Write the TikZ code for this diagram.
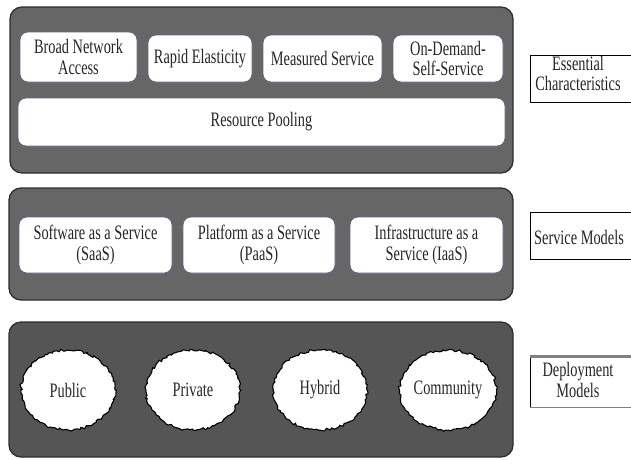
\documentclass[tikz,border=0pt]{standalone}
\usepackage{fontspec}
\setmainfont{Liberation Serif}[FakeStretch=0.70]
\usetikzlibrary{shapes.geometric,decorations.pathmorphing}
\definecolor{panelgray}{HTML}{666666}
\definecolor{deepgray}{HTML}{555555}
\definecolor{edgegray}{HTML}{2E2E2E}
\definecolor{boxedge}{HTML}{5A6788}
\definecolor{inkgray}{HTML}{262626}
\begin{document}
\begin{tikzpicture}[x=1pt,y=-1pt,
  txt/.style={font=\fontsize{20.5}{20.5}\selectfont, text=inkgray, align=center},
  panel/.style={draw=edgegray, line width=1.3pt, rounded corners=12pt, inner sep=0pt},
  itembox/.style={txt, draw=boxedge, fill=white, line width=0.8pt, rounded corners=8pt, inner sep=0pt},
  cloudy/.style={txt, ellipse, draw=black, fill=white, line width=1.1pt, inner sep=0pt,
    minimum width=94pt, minimum height=80pt,
    decorate, decoration={random steps, segment length=2.4pt, amplitude=1.3pt}},
  tag/.style={txt, draw=black, fill=white, line width=0.7pt, inner sep=0pt, minimum width=104pt}
]
\useasboundingbox (0,0) rectangle (631,459);

% three layer panels
\node[panel, fill=panelgray, minimum width=503pt, minimum height=166pt] (essential) at (261.5,90) {};
\node[panel, fill=panelgray, minimum width=504pt, minimum height=112pt] (service) at (261,244) {};
\node[panel, fill=deepgray, minimum width=504pt, minimum height=135pt] (deploy) at (261,389.5) {};

% essential characteristics
\node[itembox, minimum width=117pt, minimum height=50pt] (bna) at (78.5,57) {Broad Network\\Access};
\node[itembox, minimum width=104pt, minimum height=47pt] (rapid) at (200,58.5) {Rapid Elasticity};
\node[itembox, minimum width=119pt, minimum height=47pt] (measured) at (322.5,58.5) {Measured Service};
\node[itembox, minimum width=110pt, minimum height=47pt] (ondemand) at (448,58.5) {On-Demand-\\Self-Service};
\node[itembox, minimum width=487pt, minimum height=48pt] (pool) at (261.5,122) {Resource Pooling};

% service models
\node[itembox, minimum width=153pt, minimum height=56pt] (saas) at (95.5,245) {Software as a Service\\(SaaS)};
\node[itembox, minimum width=152pt, minimum height=56pt] (paas) at (259,245) {Platform as a Service\\(PaaS)};
\node[itembox, minimum width=153pt, minimum height=56pt] (iaas) at (426.5,245) {Infrastructure as a\\Service (IaaS)};

% deployment models
\node[cloudy] (public) at (68,390) {Public};
\node[cloudy] (private) at (193,390) {Private};
\node[cloudy] (hybrid) at (320,390) {Hybrid};
\node[cloudy] (community) at (448,390) {Community};

% layer tags
\node[tag, minimum height=47pt] (tagess) at (582,78.5) {};
\node[txt] (tagesstext) at (578,73.5) {Essential\\Characteristics};
\node[tag, minimum height=47pt] (tagsvc) at (582,235.5) {};
\node[txt] (tagsvctext) at (579,237) {Service Models};
\node[tag, minimum height=50pt] (tagdep) at (582,382) {};
\node[txt] (tagdeptext) at (578,380) {Deployment\\Models};
\draw[gray, line width=2.5pt] (tagdep.north west) -- (tagdep.north east);
\draw[gray, line width=1.5pt] (tagdep.south west) -- (tagdep.south east);
\end{tikzpicture}
\end{document}
